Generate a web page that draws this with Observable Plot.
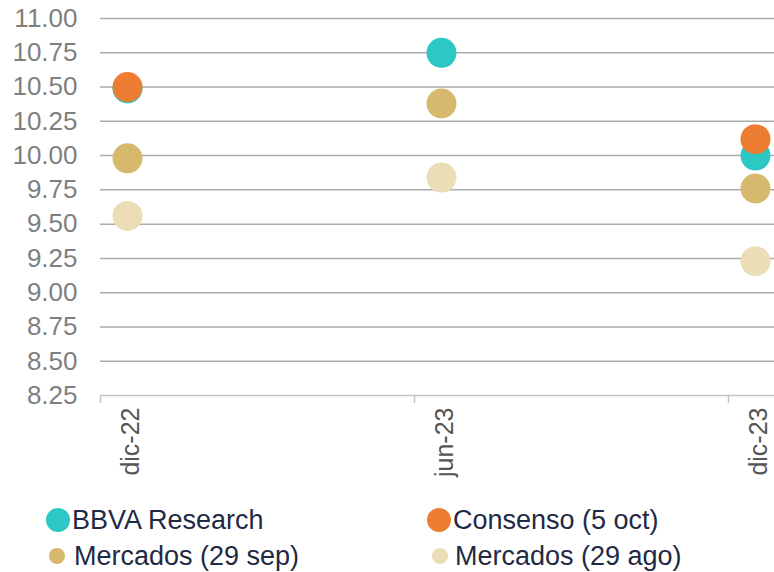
<!DOCTYPE html>
<html>
<head>
<meta charset="utf-8">
<script src="https://cdn.jsdelivr.net/npm/d3@7"></script>
<script src="https://cdn.jsdelivr.net/npm/@observablehq/plot@0.6"></script>
<style>
  html, body { margin: 0; padding: 0; background: #fff; overflow: hidden; }
  #wrap { position: relative; width: 774px; height: 572px; font-family: "Liberation Sans", Arial, sans-serif; }
  #legend { position: absolute; left: 0; top: 500px; width: 774px; height: 72px; }
  .item { position: absolute; display: flex; align-items: center; font-size: 27px; color: #1f2a44; white-space: nowrap; }
  .sw { border-radius: 50%; display: inline-block; flex: none; }
</style>
</head>
<body>
<div id="wrap">
  <div id="chart"></div>
  <div id="legend"></div>
</div>
<script>
// Categories
const fechas = ["dic-22", "jun-23", "dic-23"];
// Series values (%)
const bbva     = [10.49, 10.75, 10.00];
const consenso = [10.50, null, 10.12];
const mercSep  = [9.98, 10.38, 9.76];
const mercAgo  = [9.56, 9.84, 9.23];
// Series names & colours
const seriesNames  = ["BBVA Research", "Consenso (5 oct)", "Mercados (29 sep)", "Mercados (29 ago)"];
const seriesColors = ["#2cc8c3", "#ed7d31", "#d6b96c", "#ebddb5"];
// Y ticks
const yTicks = [8.25, 8.5, 8.75, 9, 9.25, 9.5, 9.75, 10, 10.25, 10.5, 10.75, 11];

const seriesValues = [bbva, consenso, mercSep, mercAgo];
const data = [];
seriesNames.forEach((s, i) => {
  fechas.forEach((f, j) => {
    const v = seriesValues[i][j];
    if (v != null) data.push({serie: s, fecha: f, valor: v});
  });
});

const chart = Plot.plot({
  width: 774,
  height: 500,
  marginTop: 18,
  marginBottom: 105,
  marginLeft: 100,
  marginRight: 0,
  style: { fontFamily: "Liberation Sans, Arial, sans-serif", fontSize: "26px", background: "#fff" },
  x: { type: "point", domain: fechas, range: [127, 755], padding: 0 },
  y: { domain: [8.25, 11], ticks: yTicks },
  color: { domain: seriesNames, range: seriesColors },
  marks: [
    Plot.gridY(yTicks.filter(t => t > 8.25), { stroke: "#ababab", strokeOpacity: 1, strokeWidth: 1.5 }),
    Plot.ruleY([8.25], { stroke: "#c4c4c4", strokeWidth: 1.5 }),
    Plot.ruleX(fechas, { x: d => d, y1: 8.25, y2: 8.25, insetBottom: -8, dx: -27, stroke: "#c4c4c4", strokeWidth: 1.5 }),
    Plot.axisY(yTicks, { tickSize: 0, tickPadding: 23, tickFormat: d3.format(".2f"), fill: "#7f7f7f", fontSize: 26, label: null }),
    Plot.axisX({ tickSize: 0, tickPadding: 12, tickRotate: -90, fill: "#555", fontSize: 25, label: null, dx: 3 }),
    Plot.dot(data, { x: "fecha", y: "valor", fill: "serie", r: 15 })
  ]
});
document.getElementById("chart").appendChild(chart);

// Legend
const legendPos = [
  { left: 46, top: 8, r: 12, gap: 2 },
  { left: 427, top: 8, r: 12, gap: 2 },
  { left: 49, top: 44, r: 8, gap: 9 },
  { left: 432, top: 44, r: 8, gap: 7 }
];
const legend = document.getElementById("legend");
seriesNames.forEach((s, i) => {
  const p = legendPos[i];
  const item = document.createElement("div");
  item.className = "item";
  item.style.left = p.left + "px";
  item.style.top = (p.top + 12 - 16) + "px";
  item.style.height = "32px";
  const sw = document.createElement("span");
  sw.className = "sw";
  sw.style.width = (2 * p.r) + "px";
  sw.style.height = (2 * p.r) + "px";
  sw.style.background = seriesColors[i];
  sw.style.marginRight = p.gap + "px";
  const t = document.createElement("span");
  t.textContent = s;
  item.appendChild(sw);
  item.appendChild(t);
  legend.appendChild(item);
});
</script>
</body>
</html>
